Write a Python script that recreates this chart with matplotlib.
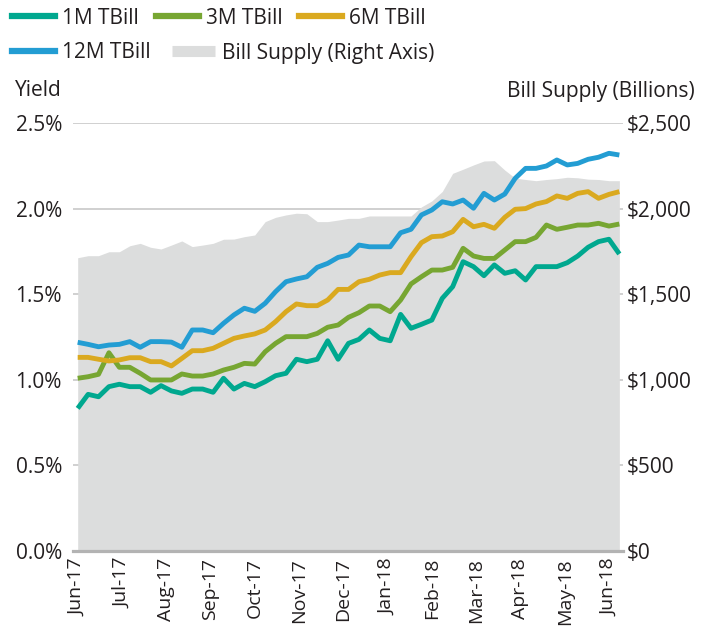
import numpy as np
import matplotlib
matplotlib.use("Agg")
import matplotlib.pyplot as plt
from matplotlib.lines import Line2D
from matplotlib.ticker import FuncFormatter

plt.rcParams['font.family'] = ['Open Sans', 'DejaVu Sans']

# weekly yields (%) and bill supply ($bn), Jun-17 .. Jun-18
months = ['Jun-17', 'Jul-17', 'Aug-17', 'Sep-17', 'Oct-17', 'Nov-17', 'Dec-17',
          'Jan-18', 'Feb-18', 'Mar-18', 'Apr-18', 'May-18', 'Jun-18']

tbill_1m = [0.833, 0.915, 0.901, 0.960, 0.974, 0.960, 0.960, 0.927, 0.966, 0.935,
            0.921, 0.946, 0.946, 0.927, 1.009, 0.946, 0.979, 0.960, 0.989, 1.024,
            1.038, 1.120, 1.106, 1.120, 1.228, 1.120, 1.213, 1.236, 1.291, 1.242,
            1.228, 1.382, 1.301, 1.324, 1.349, 1.476, 1.544, 1.690, 1.661, 1.608,
            1.671, 1.622, 1.637, 1.583, 1.661, 1.661, 1.661, 1.684, 1.723, 1.774,
            1.807, 1.821, 1.735]

tbill_3m = [1.009, 1.018, 1.032, 1.158, 1.073, 1.073, 1.038, 0.999, 0.999, 0.999,
            1.034, 1.022, 1.022, 1.034, 1.057, 1.073, 1.096, 1.092, 1.164, 1.213,
            1.252, 1.252, 1.252, 1.271, 1.307, 1.320, 1.365, 1.392, 1.431, 1.431,
            1.398, 1.466, 1.560, 1.602, 1.641, 1.641, 1.657, 1.768, 1.723, 1.709,
            1.709, 1.758, 1.807, 1.807, 1.832, 1.904, 1.879, 1.891, 1.904, 1.904,
            1.914, 1.898, 1.910]

tbill_6m = [1.131, 1.131, 1.120, 1.110, 1.116, 1.129, 1.129, 1.106, 1.106, 1.081,
            1.125, 1.170, 1.170, 1.184, 1.213, 1.242, 1.256, 1.268, 1.291, 1.340,
            1.398, 1.443, 1.433, 1.433, 1.466, 1.528, 1.528, 1.573, 1.587, 1.612,
            1.626, 1.626, 1.719, 1.801, 1.836, 1.840, 1.865, 1.937, 1.894, 1.908,
            1.885, 1.949, 1.996, 2.000, 2.027, 2.041, 2.074, 2.060, 2.089, 2.099,
            2.060, 2.083, 2.099]

tbill_12m = [1.219, 1.207, 1.193, 1.203, 1.207, 1.223, 1.190, 1.223, 1.223, 1.220,
             1.190, 1.291, 1.291, 1.275, 1.330, 1.379, 1.418, 1.400, 1.447, 1.515,
             1.573, 1.589, 1.602, 1.657, 1.680, 1.715, 1.729, 1.787, 1.777, 1.777,
             1.777, 1.859, 1.879, 1.963, 1.992, 2.040, 2.027, 2.050, 2.002, 2.089,
             2.050, 2.085, 2.177, 2.235, 2.235, 2.249, 2.284, 2.255, 2.264, 2.288,
             2.300, 2.323, 2.313]

supply = [1713, 1725, 1725, 1748, 1748, 1783, 1797, 1774, 1764, 1787,
          1811, 1778, 1787, 1797, 1821, 1822, 1836, 1846, 1924, 1949,
          1963, 1973, 1970, 1924, 1924, 1933, 1943, 1943, 1957, 1957,
          1957, 1957, 1957, 2010, 2045, 2100, 2206, 2230, 2255, 2278,
          2280, 2225, 2178, 2170, 2163, 2170, 2175, 2183, 2180, 2172,
          2170, 2163, 2163]

series = [('1M TBill', tbill_1m, '#00a88f'),
          ('3M TBill', tbill_3m, '#77a632'),
          ('6M TBill', tbill_6m, '#daa91f'),
          ('12M TBill', tbill_12m, '#239dd3')]
gray = '#dcdddd'
txt = '#231f20'

weeks = np.arange(len(supply))
month_pos = np.linspace(0, 51, len(months))

fig = plt.figure(figsize=(7.12, 6.29), dpi=100)
ax = fig.add_axes([73/712, 78/629, 550/712, 428/629])
ax2 = ax.twinx()
ax.set_zorder(ax2.get_zorder() + 1)
ax.patch.set_visible(False)

# supply area on the right axis, grid behind it
ax2.fill_between(weeks, supply, color=gray, lw=0)
ax2.set_ylim(0, 2500)
ax2.set_yticks(np.arange(0, 2501, 500))
ax2.yaxis.set_major_formatter(FuncFormatter(lambda v, p: '${:,.0f}'.format(v)))
ax2.grid(axis='y', color='#c8c8c8', lw=1.2)
ax2.set_axisbelow(True)

for name, vals, col in series:
    ax.plot(weeks, vals, color=col, lw=3.5, solid_capstyle='butt')

ax.set_xlim(-0.45, 52.35)
ax.set_ylim(0, 2.5)
ax.set_yticks(np.arange(0, 2.51, 0.5))
ax.yaxis.set_major_formatter(FuncFormatter(lambda v, p: '{:.1f}%'.format(v)))
ax.set_xticks(month_pos)
ax.set_xticklabels(months, rotation=90)

for a in (ax, ax2):
    for s in a.spines.values():
        s.set_visible(False)
ax.spines['bottom'].set_visible(True)
ax.spines['bottom'].set_color('#b3b3b3')
ax.spines['bottom'].set_linewidth(2.3)

ax.tick_params(axis='y', length=0, pad=8, labelsize=15, labelcolor=txt)
ax.tick_params(axis='x', length=0, pad=5, labelsize=14, labelcolor=txt)
ax2.tick_params(axis='y', length=0, pad=3, labelsize=15, labelcolor=txt)

fig.text(15/712, 1 - 91/629, 'Yield', ha='left', va='center', fontsize=15, color=txt)
fig.text(695/712, 1 - 91/629, 'Bill Supply (Billions)', ha='right', va='center',
         fontsize=15, color=txt)

# legend in two rows, like the reference
row1 = [Line2D([], [], color=c, lw=4.5) for _, _, c in series[:3]]
fig.legend(row1, [n for n, _, _ in series[:3]], ncol=3, loc='center left',
           bbox_to_anchor=(12/712, 1 - 18/629), frameon=False, fontsize=15,
           borderpad=0, borderaxespad=0, handlelength=2.07, handletextpad=0.34,
           columnspacing=0.8, labelcolor=txt)
row2 = [Line2D([], [], color=series[3][2], lw=4.5),
        Line2D([], [], color=gray, lw=8, solid_capstyle='butt')]
fig.legend(row2, [series[3][0], 'Bill Supply (Right Axis)'], ncol=2, loc='center left',
           bbox_to_anchor=(12/712, 1 - 53/629), frameon=False, fontsize=15,
           borderpad=0, borderaxespad=0, handlelength=2.07, handletextpad=0.34,
           columnspacing=1.0, labelcolor=txt)

fig.savefig('out.png', dpi=100)
